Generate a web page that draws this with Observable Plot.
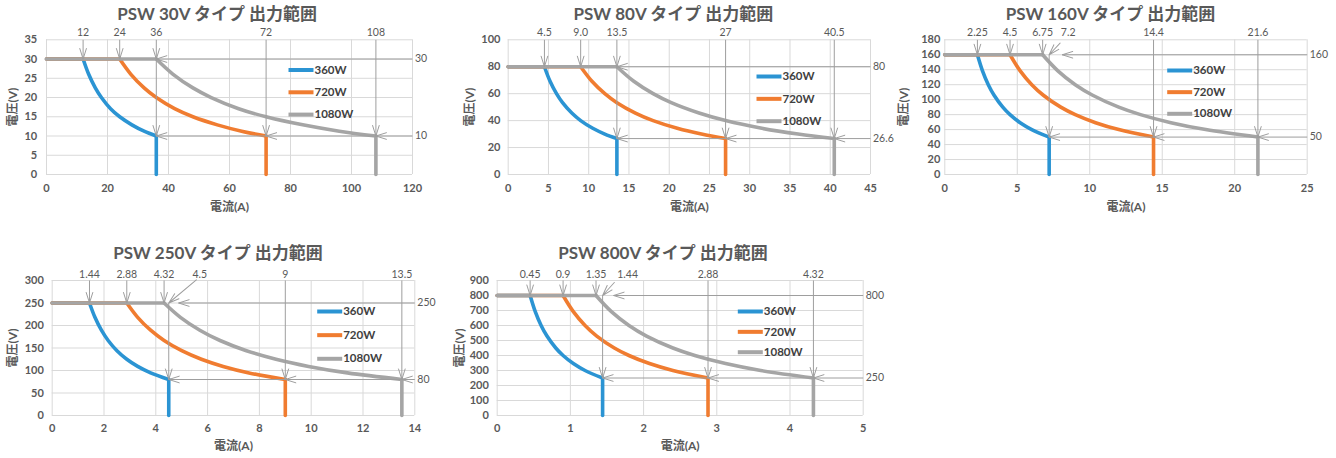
<!DOCTYPE html>
<html><head><meta charset="utf-8">
<script src="https://cdn.jsdelivr.net/npm/d3@7"></script>
<script src="https://cdn.jsdelivr.net/npm/@observablehq/plot@0.6"></script>
<style>
body{margin:0;background:#fff;}
#root{position:relative;width:1336px;height:458px;overflow:hidden;background:#fff;}
#root > svg{position:absolute;}
</style></head><body><div id="root"></div>
<script>
// ---------- data ----------
const seriesNames = ["360W", "720W", "1080W"];
const seriesColors = ["#2b94d3", "#f07c30", "#a5a5a5"];
const titles = ["PSW 30V タイプ 出力範囲", "PSW 80V タイプ 出力範囲", "PSW 160V タイプ 出力範囲", "PSW 250V タイプ 出力範囲", "PSW 800V タイプ 出力範囲"];
const xAxisLabel = "電流(A)";
const yAxisLabel = "電圧(V)";

// [current (A), voltage (V)] along each constant-power curve
const psw30_360W  = [[12,30],[13.8,26.1],[16,22.5],[18,20],[21,17.1],[24,15],[28,12.9],[32,11.25],[36,10]];
const psw30_720W  = [[24,30],[27.6,26.1],[32,22.5],[36,20],[42,17.1],[48,15],[56,12.9],[64,11.25],[72,10]];
const psw30_1080W = [[36,30],[41.4,26.1],[48,22.5],[54,20],[63,17.1],[72,15],[84,12.9],[96,11.25],[108,10]];

const psw80_360W  = [[4.5,80],[5.2,69.2],[6,60],[6.75,53.3],[7.9,45.6],[9,40],[10.5,34.3],[12,30],[13.5,26.67]];
const psw80_720W  = [[9,80],[10.4,69.2],[12,60],[13.5,53.3],[15.8,45.6],[18,40],[21,34.3],[24,30],[27,26.67]];
const psw80_1080W = [[13.5,80],[15.6,69.2],[18,60],[20.25,53.3],[23.7,45.6],[27,40],[31.5,34.3],[36,30],[40.5,26.67]];

const psw160_360W  = [[2.25,160],[2.6,138.5],[3,120],[3.4,105.9],[4,90],[4.5,80],[5.2,69.2],[6,60],[7.2,50]];
const psw160_720W  = [[4.5,160],[5.2,138.5],[6,120],[6.8,105.9],[8,90],[9,80],[10.4,69.2],[12,60],[14.4,50]];
const psw160_1080W = [[6.75,160],[7.8,138.5],[9,120],[10.2,105.9],[12,90],[13.5,80],[15.6,69.2],[18,60],[21.6,50]];

const psw250_360W  = [[1.44,250],[1.65,218.2],[1.9,189.5],[2.16,166.7],[2.5,144],[2.88,125],[3.3,109.1],[3.8,94.7],[4.5,80]];
const psw250_720W  = [[2.88,250],[3.3,218.2],[3.8,189.5],[4.32,166.7],[5,144],[5.76,125],[6.6,109.1],[7.6,94.7],[9,80]];
const psw250_1080W = [[4.32,250],[4.95,218.2],[5.7,189.5],[6.48,166.7],[7.5,144],[8.64,125],[9.9,109.1],[11.4,94.7],[13.5,80]];

const psw800_360W  = [[0.45,800],[0.52,692.3],[0.6,600],[0.68,529.4],[0.8,450],[0.9,400],[1.04,346.2],[1.2,300],[1.44,250]];
const psw800_720W  = [[0.9,800],[1.04,692.3],[1.2,600],[1.36,529.4],[1.6,450],[1.8,400],[2.08,346.2],[2.4,300],[2.88,250]];
const psw800_1080W = [[1.35,800],[1.56,692.3],[1.8,600],[2.04,529.4],[2.4,450],[2.7,400],[3.12,346.2],[3.6,300],[4.32,250]];

// axis ticks
const xTicks30 = [0,20,40,60,80,100,120];       const yTicks30 = [0,5,10,15,20,25,30,35];
const xTicks80 = [0,5,10,15,20,25,30,35,40,45]; const yTicks80 = [0,20,40,60,80,100];
const xTicks160 = [0,5,10,15,20,25];            const yTicks160 = [0,20,40,60,80,100,120,140,160,180];
const xTicks250 = [0,2,4,6,8,10,12,14];         const yTicks250 = [0,50,100,150,200,250,300];
const xTicks800 = [0,1,2,3,4,5];                const yTicks800 = [0,100,200,300,400,500,600,700,800,900];

// annotation labels above the plots
const top30Values = [12,24,36,72,108];              const top30Text = ["12","24","36","72","108"];
const top80Values = [4.5,9,13.5,27,40.5];           const top80Text = ["4.5","9.0","13.5","27","40.5"];
const top160Values = [2.25,4.5,6.75,7.2,14.4,21.6]; const top160Text = ["2.25","4.5","6.75","7.2","14.4","21.6"];
const top250Values = [1.44,2.88,4.32,4.5,9,13.5];   const top250Text = ["1.44","2.88","4.32","4.5","9","13.5"];
const top800Values = [0.45,0.9,1.35,1.44,2.88,4.32];const top800Text = ["0.45","0.9","1.35","1.44","2.88","4.32"];

// labels right of the plots (upper / lower voltage limits)
const right30Text = ["30","10"];
const right80Text = ["80","26.6"];
const right160Text = ["160","50"];
const right250Text = ["250","80"];
const right800Text = ["800","250"];

// where the arrow on the upper-limit line points
const upperArrowX = [36, 13.5, 8.1, 4.88, 1.59];

// ---------- layout (pixels) ----------
const layout = [
  {left:0,   top:0,   width:440, height:222, mL:46,   mR:28,   mT:39.3, mB:48, titleDx:-12.3, titleDy:-25.3, topDy:-7.3, yLabDx:-33.3, xLabDy:32.7, xPad:10,  yPad:9.3, leg:{dx:242,  dy:30.2, gap:22.3}},
  {left:440, top:0,   width:460, height:222, mL:67.7, mR:30,   mT:39.3, mB:48, titleDx:-15.9, titleDy:-25.3, topDy:-7.3, yLabDx:-37.7, xLabDy:32.7, xPad:10,  yPad:7.7, leg:{dx:248.3,dy:36.7, gap:22.35}},
  {left:895, top:0,   width:441, height:222, mL:49.3, mR:29.3, mT:39.3, mB:48, titleDx:-15.5, titleDy:-25.3, topDy:-7.3, yLabDx:-40.3, xLabDy:32.7, xPad:10,  yPad:4.5, leg:{dx:222.4,dy:30.7, gap:21.65}, shift:{i:3, dx:19},  diag:{rot:43, len:16}},
  {left:0,   top:236, width:445, height:222, mL:51.7, mR:30.7, mT:44,   mB:43, titleDx:-15.5, titleDy:-26.7, topDy:-6.2, yLabDx:-39,   xLabDy:31,   xPad:8.5, yPad:8.4, leg:{dx:265,  dy:31,   gap:23.65}, shift:{i:3, dx:31},  diag:{rot:50, len:36}},
  {left:445, top:236, width:455, height:222, mL:51.7, mR:37.3, mT:44,   mB:43, titleDx:-17.2, titleDy:-26.7, topDy:-6.2, yLabDx:-36.7, xLabDy:31,   xPad:8.5, yPad:8.4, leg:{dx:240.6,dy:31,   gap:20.35}, shift:{i:3, dx:25},  diag:{rot:42, len:17.5}}
];

const specs = [
  {curves:[psw30_360W, psw30_720W, psw30_1080W],    xTicks:xTicks30,  yTicks:yTicks30,  topV:top30Values,  topT:top30Text,  rightT:right30Text},
  {curves:[psw80_360W, psw80_720W, psw80_1080W],    xTicks:xTicks80,  yTicks:yTicks80,  topV:top80Values,  topT:top80Text,  rightT:right80Text},
  {curves:[psw160_360W, psw160_720W, psw160_1080W], xTicks:xTicks160, yTicks:yTicks160, topV:top160Values, topT:top160Text, rightT:right160Text},
  {curves:[psw250_360W, psw250_720W, psw250_1080W], xTicks:xTicks250, yTicks:yTicks250, topV:top250Values, topT:top250Text, rightT:right250Text},
  {curves:[psw800_360W, psw800_720W, psw800_1080W], xTicks:xTicks800, yTicks:yTicks800, topV:top800Values, topT:top800Text, rightT:right800Text}
];

// ---------- drawing ----------
const FONT = "Lato, 'Noto Sans CJK JP', sans-serif";
const TEXT = "#595959";
const REF = "#9e9e9e";
const W = 3.3, H = 10.5;
const chevron = {draw(ctx, l, r) { ctx.moveTo(-W, -H); ctx.lineTo(0, 0); ctx.lineTo(W, -H); }};
const tailArrow = {draw(ctx, l, r) { ctx.moveTo(0, -l); ctx.lineTo(0, 0); ctx.moveTo(-W, -H); ctx.lineTo(0, 0); ctx.lineTo(W, -H); }};
const fmt = d3.format("~g");

function makeChart(k) {
  const S = specs[k], L = layout[k];
  const plotW = L.width - L.mL - L.mR, plotH = L.height - L.mT - L.mB;
  const xMax = S.xTicks[S.xTicks.length - 1], yMax = S.yTicks[S.yTicks.length - 1];
  const hi = S.curves.map(c => c[0][0]);
  const lo = S.curves.map(c => c[c.length - 1][0]);
  const c0 = S.curves[0];
  const vHi = c0[0][1], vLo = c0[c0.length - 1][1];

  const seriesMarks = [];
  S.curves.forEach((c, s) => {
    const first = c[0], last = c[c.length - 1];
    seriesMarks.push(Plot.line([[0, first[1]], first], {x: d => d[0], y: d => d[1], stroke: seriesColors[s], strokeWidth: 3.6}));
    seriesMarks.push(Plot.line(c, {x: d => d[0], y: d => d[1], stroke: seriesColors[s], strokeWidth: 3.6, curve: "catmull-rom", strokeLinecap: "round", strokeLinejoin: "round"}));
    seriesMarks.push(Plot.line([last, [last[0], 0]], {x: d => d[0], y: d => d[1], stroke: seriesColors[s], strokeWidth: 3.6}));
  });

  const shafts = [
    ...hi.map(x => ({x1: x, y1: yMax, x2: x, y2: vHi})),
    {x1: lo[0], y1: vHi, x2: lo[0], y2: vLo},
    {x1: lo[1], y1: yMax, x2: lo[1], y2: vLo},
    {x1: lo[2], y1: yMax, x2: lo[2], y2: vLo},
    {x1: upperArrowX[k], y1: vHi, x2: xMax, y2: vHi},
    {x1: lo[0], y1: vLo, x2: xMax, y2: vLo}
  ];
  const downTips = [...hi.map(x => ({x, y: vHi})), ...lo.map(x => ({x, y: vLo}))];
  const leftTips = [{x: upperArrowX[k], y: vHi}, ...lo.map(x => ({x, y: vLo}))];

  const topLabels = S.topV.map((v, i) => ({x: v, t: S.topT[i], shifted: !!(L.shift && L.shift.i === i)}));
  const rightLabels = [{y: vHi, t: S.rightT[0]}, {y: vLo, t: S.rightT[1]}];

  const lx1 = L.leg.dx / plotW * xMax, lx2 = (L.leg.dx + 25) / plotW * xMax;
  const legend = seriesNames.map((n, s) => ({n, s, y: yMax * (1 - (L.leg.dy + s * L.leg.gap) / plotH)}));

  const topOpts = {x: "x", text: "t", frameAnchor: "top", dy: L.topDy, lineAnchor: "middle", fontSize: 10.5, fill: TEXT};
  const marks = [
    Plot.gridX(S.xTicks, {stroke: "#d9d9d9", strokeOpacity: 1}),
    Plot.gridY(S.yTicks, {stroke: "#d9d9d9", strokeOpacity: 1}),
    Plot.axisX({ticks: S.xTicks, tickFormat: fmt, tickSize: 0, tickPadding: L.xPad, fontWeight: "bold", fontSize: 11, label: null}),
    Plot.axisY({ticks: S.yTicks, tickFormat: fmt, tickSize: 0, tickPadding: L.yPad, fontWeight: "bold", fontSize: 11, label: null}),
    ...seriesMarks,
    Plot.link(shafts, {x1: "x1", y1: "y1", x2: "x2", y2: "y2", stroke: REF, strokeWidth: 1}),
    Plot.vector(downTips, {x: "x", y: "y", length: 10, rotate: 0, anchor: "start", shape: chevron, stroke: REF, strokeWidth: 1, fill: "none"}),
    Plot.vector(leftTips, {x: "x", y: "y", length: 10, rotate: 90, anchor: "start", shape: chevron, stroke: REF, strokeWidth: 1, fill: "none"}),
    Plot.text(topLabels.filter(d => !d.shifted), topOpts),
    Plot.text(topLabels.filter(d => d.shifted), {...topOpts, dx: L.shift ? L.shift.dx : 0}),
    Plot.text(rightLabels, {y: "y", text: "t", frameAnchor: "right", dx: 2.5, textAnchor: "start", lineAnchor: "middle", fontSize: 10.5, fill: TEXT}),
    Plot.link(legend, {x1: lx1, x2: lx2, y1: "y", y2: "y", stroke: d => seriesColors[d.s], strokeWidth: 4}),
    Plot.text(legend, {x: lx2, y: "y", text: "n", dx: 1, textAnchor: "start", lineAnchor: "middle", fontSize: 11.5, fontWeight: "bold", fill: "#404040"}),
    Plot.text([titles[k]], {frameAnchor: "top", dx: L.titleDx, dy: L.titleDy, lineAnchor: "middle", fontSize: 17, fontWeight: "bold", fill: TEXT}),
    Plot.text([yAxisLabel], {frameAnchor: "left", dx: L.yLabDx, rotate: -90, textAnchor: "middle", lineAnchor: "middle", fontSize: 12, fontWeight: "bold", fill: TEXT}),
    Plot.text([xAxisLabel], {frameAnchor: "bottom", dy: L.xLabDy, lineAnchor: "middle", fontSize: 12, fontWeight: "bold", fill: TEXT})
  ];
  if (L.diag) {
    marks.push(Plot.vector([{x: lo[0], y: vHi}], {x: "x", y: "y", length: L.diag.len, rotate: L.diag.rot, anchor: "start", shape: tailArrow, stroke: REF, strokeWidth: 1, fill: "none"}));
  }

  const svg = Plot.plot({
    width: L.width, height: L.height,
    marginLeft: L.mL, marginRight: L.mR, marginTop: L.mT, marginBottom: L.mB,
    x: {domain: [0, xMax], axis: null},
    y: {domain: [0, yMax], axis: null},
    style: {fontFamily: FONT, fontSize: "11px", color: TEXT, background: "transparent"},
    marks
  });
  svg.style.left = L.left + "px";
  svg.style.top = L.top + "px";
  return svg;
}

const root = document.getElementById("root");
for (let k = 0; k < specs.length; k++) root.appendChild(makeChart(k));
</script></body></html>
